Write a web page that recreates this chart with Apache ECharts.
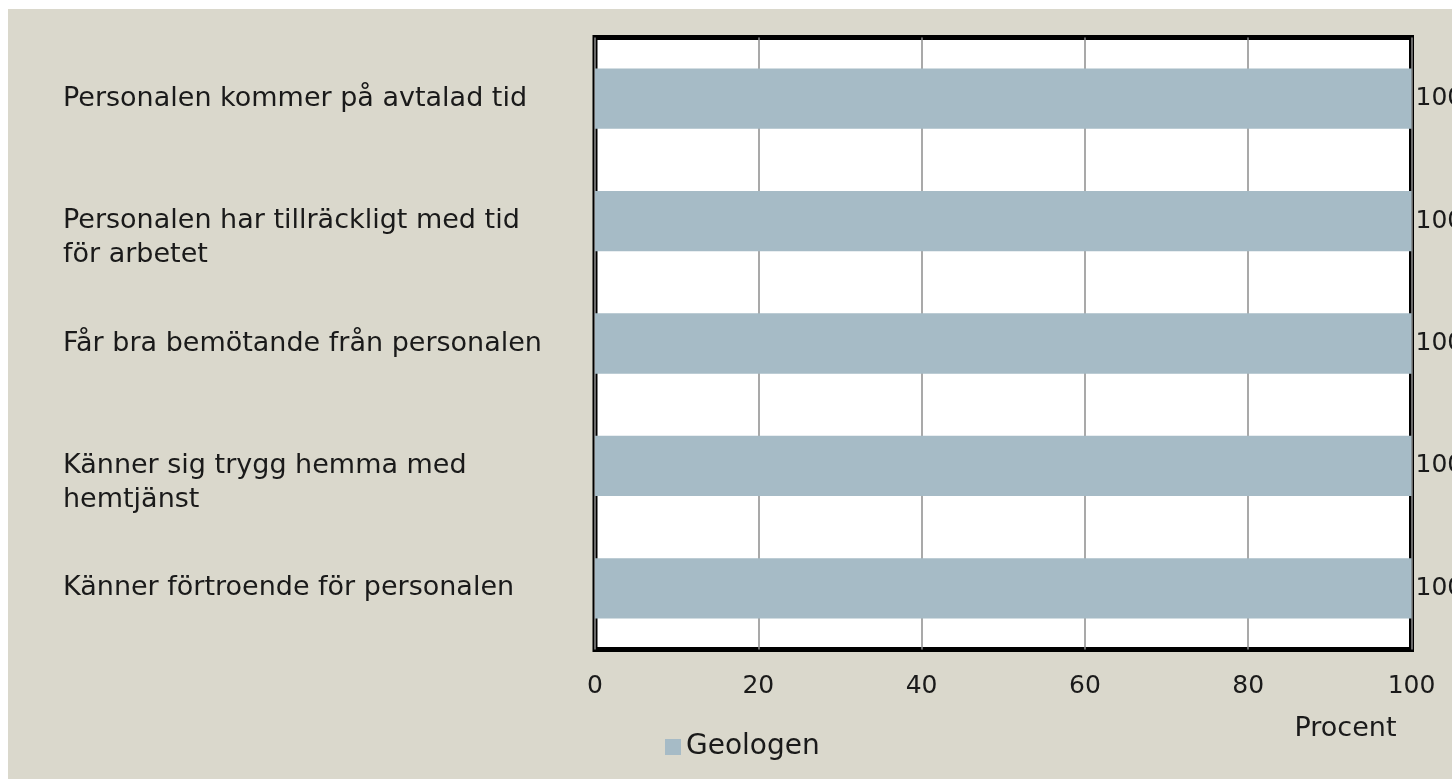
<!DOCTYPE html>
<html>
<head>
<meta charset="utf-8">
<script src="https://cdn.jsdelivr.net/npm/echarts@6/dist/echarts.min.js"></script>
<style>
  html, body { margin: 0; padding: 0; background: #ffffff; overflow: hidden; }
  #chart { position: absolute; left: 8px; top: 9px; width: 1444px; height: 770px; }
</style>
</head>
<body>
<div id="chart"></div>
<script>
const categories = [
  'Personalen kommer på avtalad tid',
  'Personalen har tillräckligt med tid\nför arbetet',
  'Får bra bemötande från personalen',
  'Känner sig trygg hemma med\nhemtjänst',
  'Känner förtroende för personalen'
]
const geologen = [100, 100, 100, 100, 100]
const xMin = 0
const xMax = 100
const xStep = 20
const seriesName = 'Geologen'
const axisName = 'Procent'

const font = 'DejaVu Sans'
const ink = '#1a1a1a'

const chart = echarts.init(document.getElementById('chart'))

chart.setOption({
  backgroundColor: '#dad8cc',
  textStyle: { fontFamily: font },
  animation: false,
  grid: {
    left: 587, right: 40.5, top: 28.5, bottom: 129.5,
    containLabel: false,
    outerBoundsMode: 'none',
    show: true,
    backgroundColor: '#ffffff',
    borderColor: '#000000',
    borderWidth: 5
  },
  legend: {
    data: [seriesName],
    left: 652,
    top: 719,
    itemWidth: 16,
    itemHeight: 16,
    itemGap: 6,
    icon: 'rect',
    textStyle: { color: ink, fontSize: 28, fontFamily: font }
  },
  xAxis: {
    type: 'value',
    min: xMin,
    max: xMax,
    interval: xStep,
    axisLine: { show: false },
    axisTick: { show: false },
    splitLine: { lineStyle: { color: '#8c8c8c', width: 1.5 } },
    axisLabel: { color: ink, fontSize: 25, margin: 24, fontFamily: font },
    name: axisName,
    nameLocation: 'end',
    nameGap: -15,
    nameTextStyle: {
      color: ink, fontSize: 27, fontFamily: font,
      align: 'right', verticalAlign: 'top', padding: [66, 0, 0, 0]
    }
  },
  yAxis: {
    type: 'category',
    inverse: true,
    data: categories,
    axisLine: { show: false },
    axisTick: { show: false },
    splitLine: { show: false },
    axisLabel: {
      color: ink, fontSize: 27, fontFamily: font,
      align: 'left', margin: 532, lineHeight: 34, interval: 0,
      padding: [7, 0, 0, 0],
      // first line of a wrapped label sits on the bar centre, rest hangs below
      formatter: v => v.includes('\n') ? '\n' + v : v
    }
  },
  series: [{
    name: seriesName,
    type: 'bar',
    data: geologen,
    barWidth: '49.3%',
    itemStyle: { color: '#a6bbc6' },
    label: {
      show: true,
      position: 'right',
      distance: 4,
      color: ink,
      fontSize: 25,
      fontFamily: font
    }
  }]
})
</script>
</body>
</html>
